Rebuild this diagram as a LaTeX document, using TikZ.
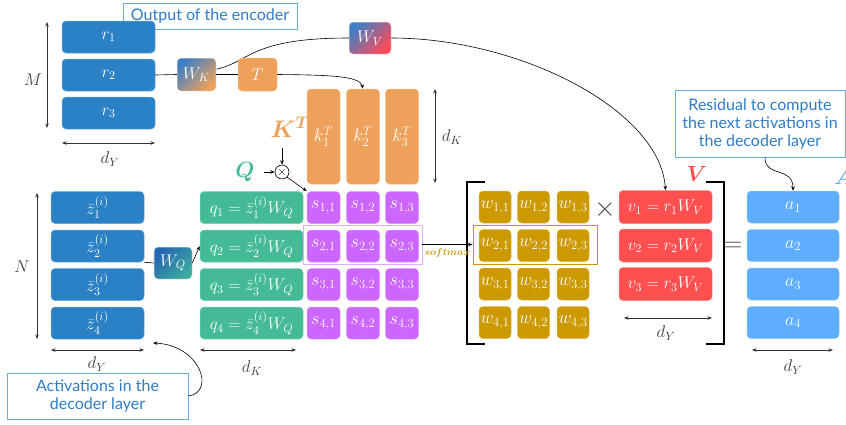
\RequirePackage{fix-cm}
\documentclass[tikz,border=0pt]{standalone}
\usepackage{fontspec}
\usepackage{amsmath}
\usepackage{bm}
\newfontfamily\calloutfont{Lato}
\usetikzlibrary{arrows.meta,backgrounds,calc}
\definecolor{rblue}{HTML}{2A81C6}
\definecolor{korange}{HTML}{EDA15A}
\definecolor{qgreen}{HTML}{45BA96}
\definecolor{spurple}{HTML}{CC66FF}
\definecolor{wgold}{HTML}{CC9900}
\definecolor{vred}{HTML}{FF4F4F}
\definecolor{ablue}{HTML}{5EADFF}
\definecolor{cbord}{HTML}{6AAAD8}
\definecolor{ctext}{HTML}{2E7DC6}
\definecolor{gblue}{HTML}{3F7FC6}
\definecolor{gdark}{HTML}{2766B3}
\definecolor{gteal}{HTML}{3BAA9E}
\definecolor{gred}{HTML}{FF4A58}
\begin{document}
\begin{tikzpicture}[x=1pt,y=-1pt,>={Stealth[length=4.5pt,width=3.5pt]},
  box/.style={rounded corners=4pt, inner sep=0pt, text=white, font=\fontsize{17}{19}\selectfont, line width=0.5pt},
  rbox/.style={box, fill=rblue, draw=rblue!70!white, minimum width=93, minimum height=32},
  zbox/.style={rbox},
  qbox/.style={box, fill=qgreen, draw=qgreen!70!white, minimum width=103, minimum height=32, font=\fontsize{17}{19}\selectfont},
  sbox/.style={box, fill=spurple, draw=spurple!70!white, minimum width=33, minimum height=32, font=\fontsize{18}{20}\selectfont},
  kbox/.style={box, fill=korange, draw=korange!70!white, minimum width=33, minimum height=95, font=\fontsize{18}{20}\selectfont},
  wbox/.style={box, fill=wgold, draw=wgold!70!white, minimum width=32, minimum height=32, font=\fontsize{18}{20}\selectfont},
  vbox/.style={box, fill=vred, draw=vred!70!white, minimum width=93, minimum height=33, font=\fontsize{17}{19}\selectfont},
  abox/.style={box, fill=ablue, draw=ablue!70!white, minimum width=92, minimum height=32, font=\fontsize{18}{20}\selectfont},
  callout/.style={draw=cbord, fill=white, text=ctext, font=\calloutfont\fontsize{16}{18}\selectfont, line width=0.8pt, inner sep=0pt, align=center},
  dim/.style={<->, line width=0.6pt, draw=black!80},
  dimlabel/.style={text=black!75, font=\fontsize{17}{19}\selectfont},
  bigsym/.style={font=\fontsize{22}{24}\selectfont},
  conn/.style={line width=0.6pt}]
\useasboundingbox (0,0) rectangle (846,424);

% encoder output
\node[callout, minimum width=174, minimum height=26] (enc) at (210,16) {Output of the encoder};
\node[rbox] (r1) at (108.5,37) {$r_1$};
\node[rbox] (r2) at (108.5,75) {$r_2$};
\node[rbox] (r3) at (108.5,113) {$r_3$};
\coordinate (Mt) at (47,22); \coordinate (Mb) at (47,128);
\draw[dim] (Mt) -- (Mb);
\node[dimlabel] (Ml) at (33,80) {$M$};
\coordinate (dya) at (62,143); \coordinate (dyb) at (155,143);
\draw[dim] (dya) -- (dyb);
\node[dimlabel] (dyl) at (110,159) {$d_Y$};

\node[box, minimum width=39, minimum height=33, top color=gblue, bottom color=korange, shading angle=45, draw=white!80!korange] (WK) at (196.5,74.5) {$W_K$};
\node[box, fill=korange, draw=korange!70!white, minimum width=39, minimum height=33] (T) at (257.5,74.5) {$T$};
\node[box, minimum width=42, minimum height=32, top color=gblue, bottom color=gred, shading angle=45, draw=white!80!gred] (WV) at (370,38) {$W_V$};

% keys
\node[kbox] (k1) at (323.5,136.5) {$k_1^T$};
\node[kbox] (k2) at (363,136.5) {$k_2^T$};
\node[kbox] (k3) at (402,136.5) {$k_3^T$};
\coordinate (dka) at (435,89); \coordinate (dkb) at (435,183);
\draw[dim] (dka) -- (dkb);
\node[dimlabel] (dkl) at (452,137) {$d_K$};

\node[bigsym, text=korange, font=\fontsize{24}{26}\selectfont] (KT) at (290,127) {$\bm{K^T}$};
\node[bigsym, text=qgreen] (Q) at (245,172) {$\bm{Q}$};
\node[circle, draw, line width=0.6pt, inner sep=0pt, minimum size=14, font=\fontsize{12}{12}\selectfont] (ot) at (282,172) {$\times$};
\coordinate (ka) at (282,148);

% decoder activations
\node[zbox] (z1) at (97.5,207.5) {$\bar{z}_1^{(i)}$};
\node[zbox] (z2) at (97.5,246) {$\bar{z}_2^{(i)}$};
\node[zbox] (z3) at (97.5,284.5) {$\bar{z}_3^{(i)}$};
\node[zbox] (z4) at (97.5,323) {$\bar{z}_4^{(i)}$};
\coordinate (Nt) at (37,193); \coordinate (Nb) at (37,339);
\draw[dim] (Nt) -- (Nb);
\node[dimlabel] (Nl) at (22,267) {$N$};
\coordinate (dza) at (51,350); \coordinate (dzb) at (144,350);
\draw[dim] (dza) -- (dzb);
\node[dimlabel] (dzl) at (97,364) {$d_Y$};

\node[box, minimum width=38, minimum height=32, top color=gdark, bottom color=gteal, shading angle=45, draw=white!80!gteal] (WQ) at (173,263) {$W_Q$};

\node[qbox] (q1) at (251.5,207.5) {$q_1 = \bar{z}_1^{(i)} W_Q$};
\node[qbox] (q2) at (251.5,246) {$q_2 = \bar{z}_2^{(i)} W_Q$};
\node[qbox] (q3) at (251.5,284.5) {$q_3 = \bar{z}_3^{(i)} W_Q$};
\node[qbox] (q4) at (251.5,323) {$q_4 = \bar{z}_4^{(i)} W_Q$};
\coordinate (dqa) at (200,350); \coordinate (dqb) at (296,350);
\draw[dim] (dqa) -- (dqb);
\node[dimlabel] (dql) at (252,368) {$d_K$};

% scores
\foreach \i/\y in {1/207.5,2/246,3/284.5,4/323}{
  \foreach \j/\x in {1/323.5,2/363,3/402}{
    \node[sbox] (s\i\j) at (\x,\y) {$s_{\i,\j}$};
  }
}
\node[draw=spurple!55!white, line width=0.8pt, minimum width=119, minimum height=39, inner sep=0pt] (srow) at (362.5,244.5) {};

% weights
\draw[line width=2.5pt] (485,182) -- (467,182) -- (467,344) -- (485,344);
\foreach \i/\y in {1/207,2/245.5,3/284,4/322.5}{
  \foreach \j/\x in {1/495,2/533.5,3/573}{
    \node[wbox] (w\i\j) at (\x,\y) {$w_{\i,\j}$};
  }
}
\node[draw=wgold, line width=0.8pt, minimum width=124, minimum height=39, inner sep=0pt] (wrow) at (535,244.5) {};
\node[text=black!70, font=\fontsize{28}{28}\selectfont] (times) at (605,209) {$\times$};

% values
\node[vbox] (v1) at (665.5,207) {$v_1 = r_1 W_V$};
\node[vbox] (v2) at (665.5,245.5) {$v_2 = r_2 W_V$};
\node[vbox] (v3) at (665.5,284) {$v_3 = r_3 W_V$};
\node[bigsym, text=vred] (Vl) at (697,174) {$\bm{V}$};
\coordinate (dva) at (624,318); \coordinate (dvb) at (712,318);
\draw[dim] (dva) -- (dvb);
\node[dimlabel] (dvl) at (666,333) {$d_Y$};
\draw[line width=2.5pt] (706,182) -- (724,182) -- (724,344) -- (706,344);
\node[text=black!70, font=\fontsize{26}{26}\selectfont] (eq) at (733,247) {$=$};

% outputs
\node[abox] (a1) at (793,207) {$a_1$};
\node[abox] (a2) at (793,245.5) {$a_2$};
\node[abox] (a3) at (793,284) {$a_3$};
\node[abox] (a4) at (793,322.5) {$a_4$};
\node[bigsym, text=ablue] (Al) at (844,177) {$\bm{A}$};
\coordinate (daa) at (752,350); \coordinate (dab) at (833,350);
\draw[dim] (daa) -- (dab);
\node[dimlabel] (dal) at (793,367) {$d_Y$};

% callouts
\node[callout, minimum width=170, minimum height=67] (res) at (760,123.5) {Residual to compute\\the next activations in\\the decoder layer};
\node[callout, minimum width=181, minimum height=46] (act) at (97.5,396) {Activations in the\\decoder layer};
\coordinate (zarrow) at (153,343);

% connectors
\begin{scope}[on background layer]
\draw[conn] (WK.15) .. controls (250,62) and (250,38) .. (WV.west);
\end{scope}
\draw[conn] (r2.east) -- (WK.west);
\draw[conn] (WK.east) -- (T.west);
\draw[conn,->] (WV.east) .. controls (520,38) and (660,110) .. (v1.north);
\draw[conn,->] (T.east) .. controls (330,75) and (360,76) .. (k2.north);
\draw[conn,->] (ka) -- (ot.north);
\draw[conn,->,shorten <=6pt] (Q.east) -- (ot.west);
\draw[conn,->] (ot.south east) -- (s11.north west);
\draw[conn] (z2.south east) -- (WQ.west);
\draw[conn,->] (WQ.east) -- (q2.west);
\draw[conn,->] (srow.east) -- node[below=0pt, text=wgold, font=\fontsize{10}{10}\selectfont] {$\bm{softmax}$} (wrow.west);
\draw[conn,->] (act.east) .. controls (216,392) and (200,345) .. (zarrow);
\draw[conn,->] ($(res.south)+(5,0)$) .. controls (765,178) and (793,166) .. (a1.north);
\end{tikzpicture}
\end{document}
